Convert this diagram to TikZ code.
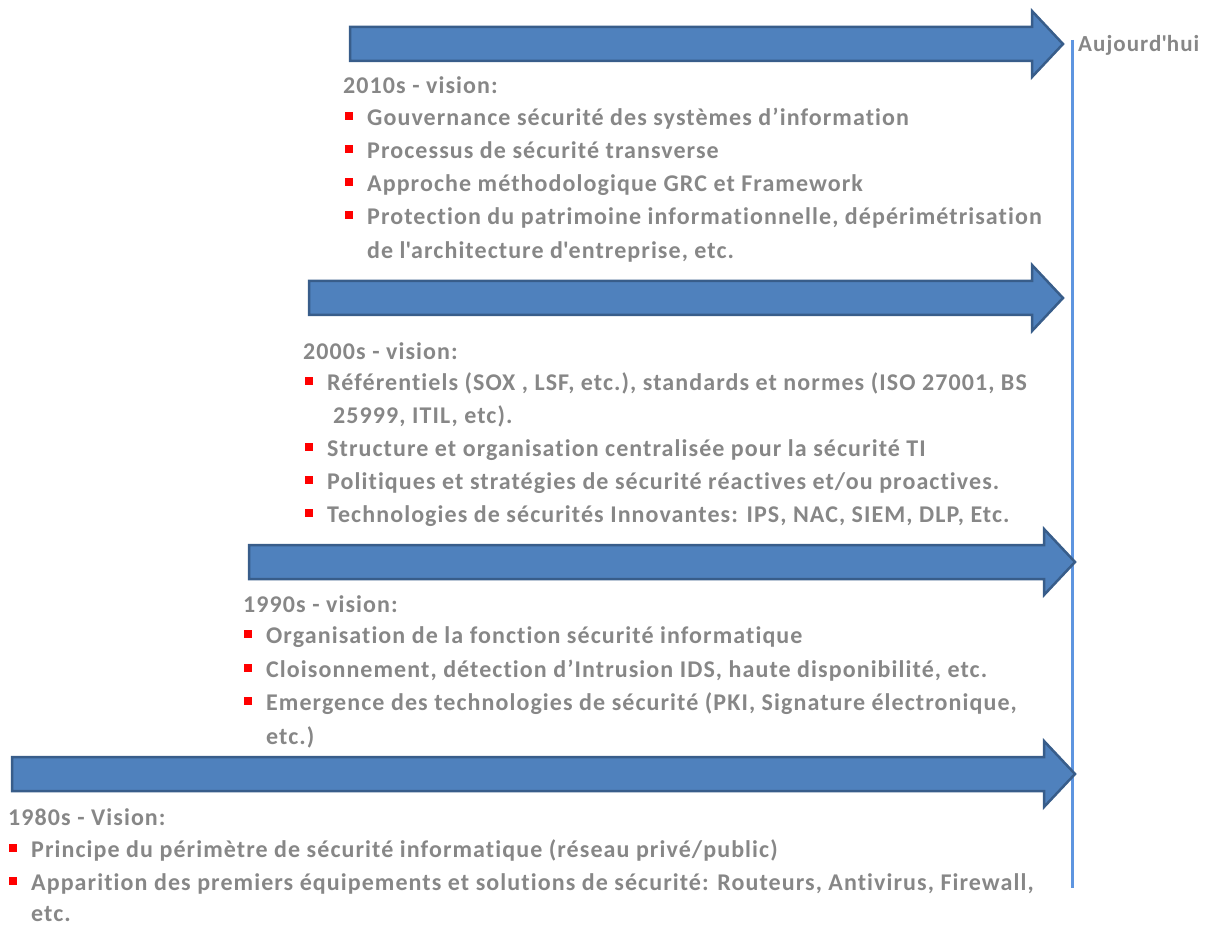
\documentclass[tikz,border=0pt]{standalone}
\usepackage{fontspec}
\setmainfont{Carlito}[LetterSpace=4.5, Ligatures=NoCommon]
\usepackage{tikz}
\usetikzlibrary{positioning}

\definecolor{arrowfill}{HTML}{4F81BD}
\definecolor{arrowline}{HTML}{385D8A}
\definecolor{nowline}{HTML}{5E95E0}
\definecolor{txtgray}{HTML}{878787}

\begin{document}
\begin{tikzpicture}[
    x=1pt, y=-1pt,
    bigarrow/.style={fill=arrowfill, draw=arrowline, line width=2.5pt, line join=miter},
    vision/.style={anchor=base west, inner sep=0pt, text=txtgray, font=\bfseries\fontsize{24}{28}\selectfont},
    redsq/.style={rectangle, fill=red, minimum size=8pt, inner sep=0pt},
    item/.style={vision, append after command={node[redsq] at ([xshift=-18pt,yshift=9.5pt]\tikzlastnode.base west) {}}}
]
\useasboundingbox (0,0) rectangle (1210,925);

% timeline
\coordinate (top) at (1072,40);
\coordinate (bottom) at (1072,888);
\draw[nowline, line width=3pt] (top) -- (bottom);
\node[vision, font=\bfseries\fontsize{23}{27}\selectfont] (today) at (1078,52) {Aujourd\textquotesingle hui};

% the four arrows: name/left/tip/centre
\foreach \n/\xl/\xt/\yc in {a2010/350/1063/44, a2000/309/1063/298, a1990/249/1075/562, a1980/12/1075/774}{
  \draw[bigarrow] (\xl,\yc-17) -- (\xt-31,\yc-17) -- (\xt-31,\yc-33) -- (\xt,\yc)
    -- (\xt-31,\yc+33) -- (\xt-31,\yc+17) -- (\xl,\yc+17) -- cycle;
}

% 2010s
\node[vision] (h2010) at (343,94) {2010s - vision:};
\node[item] (b2010a) at (367,126) {Gouvernance sécurité des systèmes d’information};
\node[item] (b2010b) at (367,159) {Processus de sécurité transverse};
\node[item] (b2010c) at (367,192) {Approche méthodologique GRC et Framework};
\node[item] (b2010d) at (367,225) {Protection du patrimoine informationnelle, dépérimétrisation};
\node[vision] (b2010e) at (367,259) {de l\textquotesingle architecture d\textquotesingle entreprise, etc.};

% 2000s
\node[vision] (h2000) at (303,359) {2000s - vision:};
\node[item] (b2000a) at (327,390) {Référentiels (SOX , LSF, etc.), standards et normes (ISO 27001, BS};
\node[vision] (b2000b) at (333,423) {25999, ITIL, etc).};
\node[item] (b2000c) at (327,456) {Structure et organisation centralisée pour la sécurité TI};
\node[item] (b2000d) at (327,489) {Politiques et stratégies de sécurité réactives et/ou proactives.};
\node[item] (b2000e) at (327,522) {Technologies de sécurités Innovantes: IPS, NAC, SIEM, DLP, Etc.};

% 1990s
\node[vision] (h1990) at (243,612) {1990s - vision:};
\node[item] (b1990a) at (266,643) {Organisation de la fonction sécurité informatique};
\node[item] (b1990b) at (266,677) {Cloisonnement, détection d’Intrusion IDS,  haute disponibilité, etc.};
\node[item] (b1990c) at (266,710) {Emergence des technologies de sécurité (PKI,  Signature électronique,};
\node[vision] (b1990d) at (266,744) {etc.)};

% 1980s
\node[vision] (h1980) at (8,825) {1980s - Vision:};
\node[item] (b1980a) at (31,857) {Principe du périmètre de sécurité informatique (réseau privé/public)};
\node[item] (b1980b) at (31,890) {Apparition des  premiers équipements et solutions de sécurité: Routeurs, Antivirus, Firewall,};
\node[vision] (b1980c) at (31,921) {etc.};
\end{tikzpicture}
\end{document}
